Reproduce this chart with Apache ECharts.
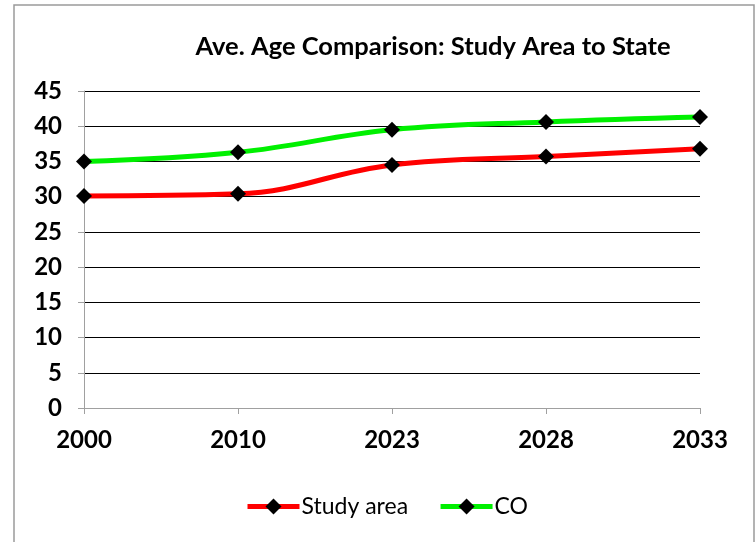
<!DOCTYPE html>
<html>
<head>
<meta charset="utf-8">
<script src="https://cdn.jsdelivr.net/npm/echarts@6/dist/echarts.min.js"></script>
<style>
html,body{margin:0;padding:0;background:#fff;}
#chart{width:756px;height:542px;}
</style>
</head>
<body>
<div id="chart"></div>
<script>
var categories = ['2000', '2010', '2023', '2028', '2033'];
var studyArea = [30.1, 30.4, 34.5, 35.7, 36.8];
var coState = [35.0, 36.3, 39.5, 40.6, 41.3];
var titleText = 'Ave. Age Comparison: Study Area to State';
var seriesNames = ['Study area', 'CO'];

var font = 'Lato, "Open Sans", sans-serif';
var chart = echarts.init(document.getElementById('chart'));
chart.setOption({
  animation: false,
  backgroundColor: '#fff',
  title: {
    text: titleText,
    left: 428,
    top: 29,
    textAlign: 'center',
    textStyle: {fontFamily: font, fontWeight: 'bold', fontSize: 25.5, color: '#000'}
  },
  graphic: [{
    type: 'rect',
    shape: {x: 14, y: 5, width: 740, height: 545},
    style: {fill: 'none', stroke: '#9a9a9a', lineWidth: 1.5},
    silent: true
  }],
  legend: {
    left: 240,
    top: 490,
    itemWidth: 52,
    itemHeight: 20,
    itemGap: 30,
    lineStyle: {width: 5},
    textStyle: {fontFamily: font, fontSize: 23, color: '#000', padding: [0,0,0,-3]},
    data: seriesNames
  },
  grid: {left: 84, right: 56, top: 91, bottom: 134, containLabel: false},
  xAxis: {
    type: 'category',
    data: categories,
    boundaryGap: false,
    axisLine: {lineStyle: {color: '#a0a0a0', width: 1}},
    axisTick: {show: true, alignWithLabel: true, length: 6, lineStyle: {color: '#a0a0a0'}},
    axisLabel: {fontFamily: font, fontWeight: 'bold', fontSize: 24, color: '#000', margin: 20}
  },
  yAxis: {
    type: 'value',
    min: 0, max: 45, interval: 5,
    axisLine: {show: true, lineStyle: {color: '#a0a0a0', width: 1}},
    axisTick: {show: true, length: 6, lineStyle: {color: '#a0a0a0'}},
    axisLabel: {fontFamily: font, fontWeight: 'bold', fontSize: 24, color: '#000', margin: 22},
    splitLine: {show: true, lineStyle: {color: '#000', width: 1}}
  },
  series: [{
    name: seriesNames[0],
    type: 'line',
    data: studyArea,
    smooth: 0.4,
    symbol: 'diamond',
    symbolSize: 16,
    itemStyle: {color: '#000'},
    lineStyle: {color: '#ff0000', width: 5},
    z: 3
  }, {
    name: seriesNames[1],
    type: 'line',
    data: coState,
    smooth: 0.4,
    symbol: 'diamond',
    symbolSize: 16,
    itemStyle: {color: '#000'},
    lineStyle: {color: '#00f000', width: 5},
    z: 3
  }]
});
</script>
</body>
</html>
